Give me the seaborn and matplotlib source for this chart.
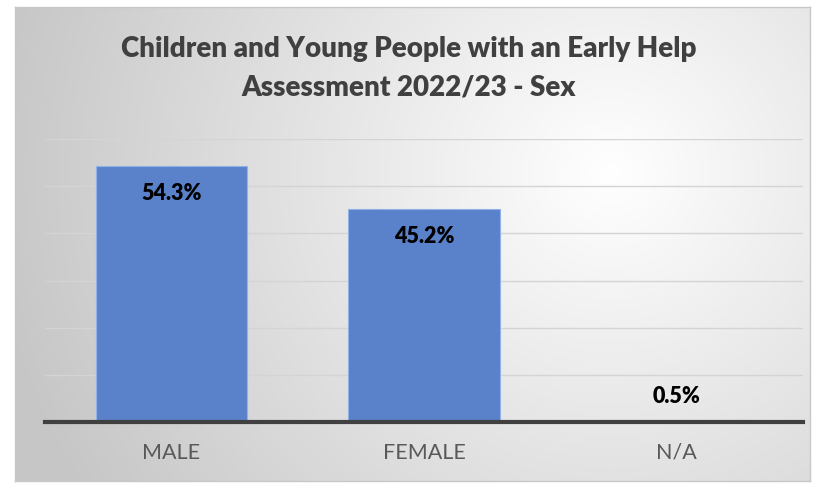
import numpy as np
import pandas as pd
import seaborn as sns
import matplotlib.pyplot as plt

# data
categories = ["MALE", "FEMALE", "N/A"]
values = [54.3, 45.2, 0.5]
labels = ["54.3%", "45.2%", "0.5%"]
title = "Children and Young People with an Early Help\nAssessment 2022/23 - Sex"

df = pd.DataFrame({"Sex": categories, "Pct": values})

sns.set_style("white")
plt.rcParams['font.family'] = ['Lato', 'DejaVu Sans']

W, H = 818, 484
fig = plt.figure(figsize=(W / 100, H / 100), dpi=100)

# chart frame with radial gradient background
fx0, fx1, fy0, fy1 = 15, 810, 7, 481
bg = fig.add_axes([fx0 / W, 1 - fy1 / H, (fx1 - fx0) / W, (fy1 - fy0) / H])
xx, yy = np.meshgrid(np.linspace(0, 1, 400), np.linspace(0, 1, 240))
cx, cy = 0.75, 0.35
d = np.sqrt(((xx - cx) * 1.6) ** 2 + ((yy - cy) * 1.0) ** 2)
d = np.clip(d / 1.25, 0, 1)
shade = 1.0 - 0.22 * d
bg.imshow(np.dstack([shade, shade, shade]), aspect="auto", extent=[0, 1, 1, 0])
bg.set_xticks([])
bg.set_yticks([])
for s in bg.spines.values():
    s.set_color("#c8c8c8")
    s.set_linewidth(1)

# plot area
px0, px1, py0, py1 = 45, 803, 139, 422
ax = fig.add_axes([px0 / W, 1 - py1 / H, (px1 - px0) / W, (py1 - py0) / H])
ax.patch.set_alpha(0)
sns.barplot(data=df, x="Sex", y="Pct", color="#5a82ca", saturation=1,
            width=0.6, edgecolor="#8fb0e8", linewidth=0.8, ax=ax, zorder=3)
ax.set_ylim(0, 60)
ax.set_xlim(-0.5, 2.5)
ax.set_yticks(np.arange(10, 61, 10))
ax.yaxis.grid(True, color="#d4d4d4", linewidth=1)
ax.set_yticklabels([])
ax.tick_params(axis="y", length=0)
ax.tick_params(axis="x", length=0, pad=15, labelsize=15.5, labelcolor="#595959")
ax.set_xlabel("")
ax.set_ylabel("")
for side in ["top", "right", "left"]:
    ax.spines[side].set_visible(False)
ax.spines["bottom"].set_color("#404040")
ax.spines["bottom"].set_linewidth(3)
ax.spines["bottom"].set_zorder(5)

for i, (v, lab) in enumerate(zip(values, labels)):
    if v > 5:
        ax.annotate(lab, (i, v), xytext=(0, -20), textcoords="offset points",
                    ha="center", va="center", fontsize=15.5, fontweight="heavy",
                    color="black", zorder=6)
    else:
        ax.annotate(lab, (i, v), xytext=(0, 17), textcoords="offset points",
                    ha="center", va="center", fontsize=15.5, fontweight="heavy",
                    color="black", zorder=6)

fig.text(0.5, 1 - 68 / H, title, ha="center", va="center", fontsize=20,
         fontweight="heavy", color="#404040", linespacing=1.6)

fig.savefig("out.png", dpi=100)
